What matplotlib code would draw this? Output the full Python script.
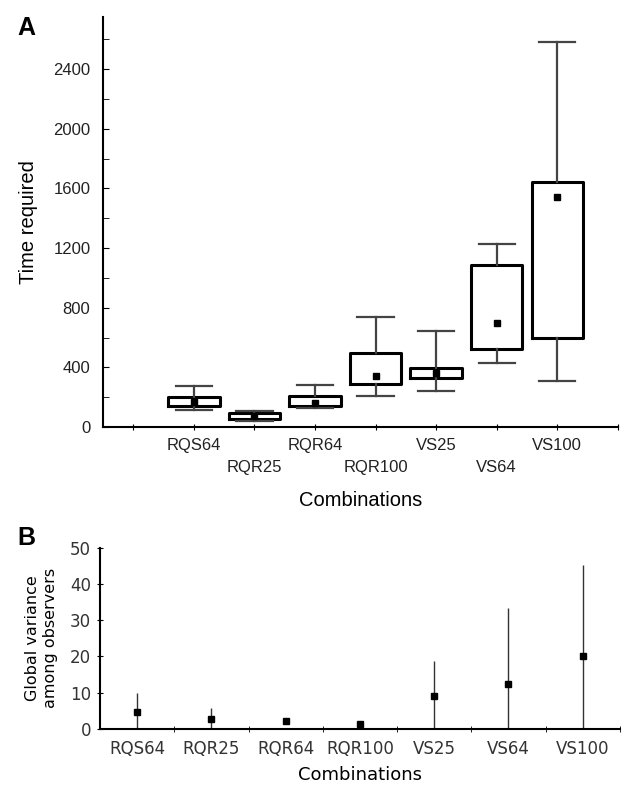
import numpy as np
import matplotlib
matplotlib.use("Agg")
from matplotlib import pyplot as plt
from matplotlib.ticker import MultipleLocator, FixedLocator

# combinations compared in both panels
combos = ["RQS64", "RQR25", "RQR64", "RQR100", "VS25", "VS64", "VS100"]

# panel A: time required (box = quartiles, whiskers, square = mean)
whis_lo = [115, 40, 130, 210, 240, 430, 310]
box_q1 = [140, 55, 140, 290, 327, 522, 600]
box_q3 = [200, 95, 210, 495, 394, 1089, 1642]
whis_hi = [272, 105, 280, 741, 641, 1230, 2579]
time_mean = [168, 75, 161, 343, 361, 701, 1544]

# panel B: global variance among observers (mean and spread)
var_mean = [4.7, 2.8, 2.1, 1.5, 9.0, 12.4, 20.0]
var_err = [5.3, 3.1, 0.0, 0.0, 9.8, 20.9, 25.2]

fig = plt.figure(figsize=(6.26, 7.87), dpi=100)

# ---------- panel A ----------
axA = fig.add_axes([0.1645, 0.4574, 0.8225, 0.521])
stats = []
for i in range(len(combos)):
    stats.append({
        "label": combos[i],
        "whislo": whis_lo[i],
        "q1": box_q1[i],
        "med": time_mean[i],
        "q3": box_q3[i],
        "whishi": whis_hi[i],
        "mean": time_mean[i],
    })
pos = np.arange(1, len(combos) + 1)
axA.bxp(stats, positions=pos, widths=0.85, showmeans=True, showfliers=False,
        boxprops=dict(color="black", linewidth=2.2),
        whiskerprops=dict(color="#444444", linewidth=1.6),
        capprops=dict(color="#444444", linewidth=1.6),
        medianprops=dict(linewidth=0),
        meanprops=dict(marker="s", markerfacecolor="black", markeredgecolor="black", markersize=5),
        capwidths=0.6)

axA.set_xlim(-0.5, 8)
axA.set_ylim(0, 2750)
for s in ["top", "right"]:
    axA.spines[s].set_visible(False)
axA.spines["left"].set_linewidth(1.5)
axA.spines["bottom"].set_linewidth(1.5)

ticklabs = [""]
for i, c in enumerate(combos):
    # stagger labels on two rows
    ticklabs.append(c if i % 2 == 0 else "\n" + c)
ticklabs.append("")
axA.xaxis.set_major_locator(FixedLocator(np.arange(0, 9)))
axA.set_xticklabels(ticklabs, fontsize=12, family="Liberation Sans", color="#222222",
                    linespacing=1.55)
axA.tick_params(axis="x", direction="inout", length=4, pad=6)

axA.yaxis.set_major_locator(MultipleLocator(400))
axA.yaxis.set_minor_locator(MultipleLocator(200))
axA.tick_params(axis="y", which="both", direction="in", length=4, labelsize=12, pad=9)
for t in axA.get_yticklabels():
    t.set_family("Liberation Sans")
    t.set_color("#222222")
axA.set_ylabel("Time required", fontsize=14.5, family="Liberation Sans", labelpad=11)
axA.set_xlabel("Combinations", fontsize=14.5, family="Liberation Sans", labelpad=12)

fig.text(0.028, 0.955, "A", fontsize=18, fontweight="bold", family="Liberation Sans")

# ---------- panel B ----------
axB = fig.add_axes([0.160, 0.0737, 0.830, 0.2303])
xb = np.arange(len(combos))
axB.errorbar(xb, var_mean, yerr=var_err, fmt="s", color="black", markersize=5,
             ecolor="#333333", elinewidth=1.0, capsize=0)
axB.set_xlim(-0.5, 6.5)
axB.set_ylim(0, 50)
for s in ["top", "right"]:
    axB.spines[s].set_visible(False)
axB.spines["left"].set_linewidth(1.5)
axB.spines["bottom"].set_linewidth(1.5)

axB.set_xticks(xb)
axB.set_xticklabels(combos, fontsize=12, family="DejaVu Sans", color="#333333")
axB.xaxis.set_minor_locator(FixedLocator(np.arange(0.5, 7, 1.0)))
axB.tick_params(axis="x", which="major", length=0, pad=8)
axB.tick_params(axis="x", which="minor", direction="inout", length=5)
axB.yaxis.set_major_locator(MultipleLocator(10))
axB.tick_params(axis="y", direction="inout", length=5, labelsize=12, pad=4, labelcolor="#333333")
axB.set_ylabel("Global variance\namong observers", fontsize=11.5, labelpad=9)
axB.set_xlabel("Combinations", fontsize=13, labelpad=6)

fig.text(0.028, 0.307, "B", fontsize=18, fontweight="bold", family="Liberation Sans")

fig.savefig("out.png", dpi=100)
